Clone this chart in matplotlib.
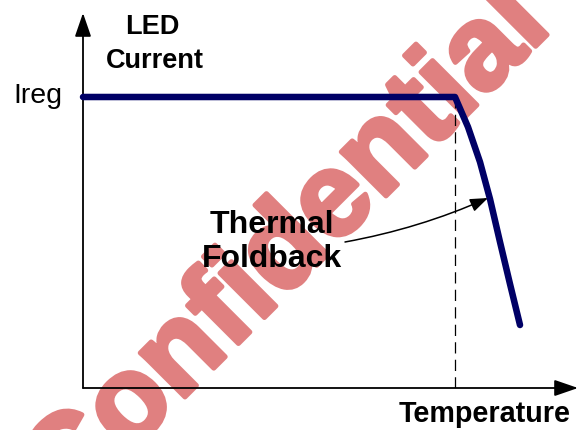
import matplotlib
matplotlib.use("Agg")
import matplotlib.pyplot as plt
import matplotlib.patheffects as pe

# schematic foldback curve (x: temperature, y: LED current), arbitrary units
temperature = [0, 372, 385, 397, 407, 417, 427, 437]
led_current = [291, 291, 261, 226, 189, 146, 104, 63]
t_fold = 372
i_reg = 291

W, H = 581, 430
fig = plt.figure(figsize=(W / 100, H / 100), dpi=100)
fig.patch.set_facecolor("white")

# plot area: origin at pixel (83, 388), arrow tips at x=578 and y=13
ax = fig.add_axes([83 / W, (H - 388) / H, (578 - 83) / W, (388 - 13) / H])
ax.set_xlim(0, 495)
ax.set_ylim(0, 375)
ax.axis("off")

font = ["Liberation Sans", "DejaVu Sans"]
wm_color = "#e08080"

# watermark, behind everything
ax.text(310 / W, 1 - 272 / H, "Confidential", transform=fig.transFigure,
        fontsize=85.7, fontweight="bold", family=font, color=wm_color,
        rotation=45, rotation_mode="anchor", ha="center", va="baseline",
        zorder=0.5, clip_on=False,
        path_effects=[pe.withStroke(linewidth=3.5, foreground=wm_color)])

# axes with arrowheads
arrow = dict(arrowstyle="-|>,head_length=1.45,head_width=0.5", mutation_scale=10,
             color="black", lw=1.3, shrinkA=0, shrinkB=0)
ax.annotate("", xy=(495, 0), xytext=(0, 0), arrowprops=arrow, annotation_clip=False)
ax.annotate("", xy=(0, 375), xytext=(0, 0), arrowprops=arrow, annotation_clip=False)

# dashed marker at the foldback temperature
ax.plot([t_fold, t_fold], [0, i_reg], color="black", lw=0.9, dashes=(9, 5), zorder=3)

# current curve
ax.plot(temperature, led_current, color="#000066", lw=4.7, solid_capstyle="round",
        solid_joinstyle="round", zorder=4, clip_on=False)

# labels
ax.text(-21, i_reg + 1, "Ireg", fontsize=20.5, family=font, ha="right", va="center")
ax.text(69, 361, "LED", fontsize=19.5, fontweight="bold", family=font, ha="center", va="center")
ax.text(72, 327, "Current", fontsize=19.5, fontweight="bold", family=font, ha="center", va="center")
ax.text(402, -26, "Temperature", fontsize=20.7, fontweight="bold", family=font,
        ha="center", va="center", clip_on=False)
ax.text(189, 146, "Thermal\nFoldback", fontsize=23, fontweight="bold", family=font,
        ha="center", va="center", zorder=5)

ax.annotate("", xy=(405, 190), xytext=(262, 146),
            arrowprops=dict(arrowstyle="-|>,head_length=1.2,head_width=0.45", mutation_scale=9,
                            color="black", lw=1.1, shrinkA=0, shrinkB=0,
                            connectionstyle="arc3,rad=0.06"), zorder=5)

fig.savefig("out.png", dpi=100, facecolor="white")
